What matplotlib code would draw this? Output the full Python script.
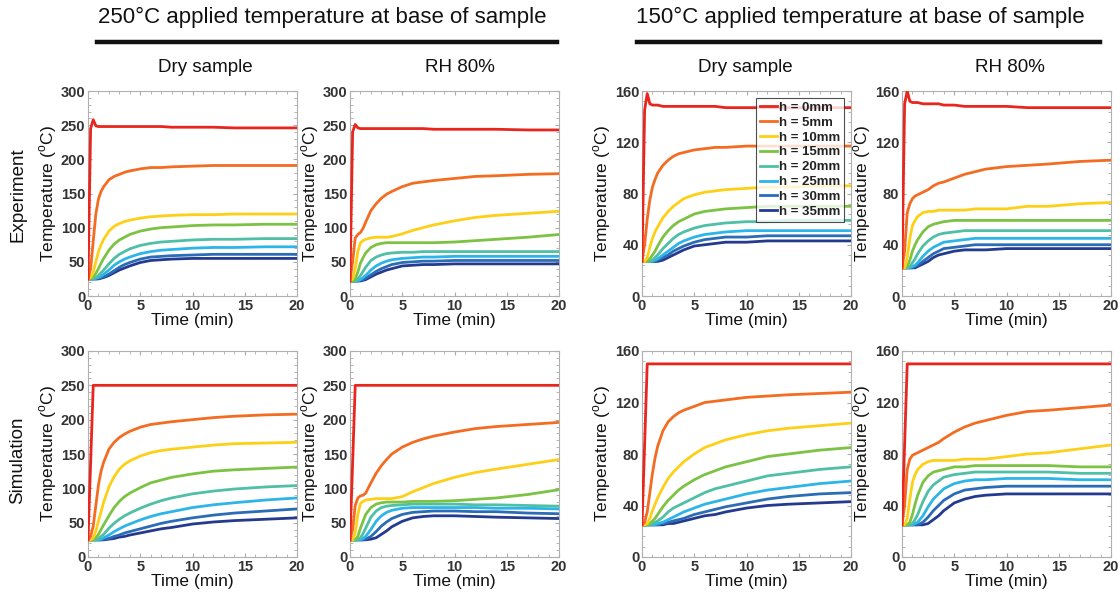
import matplotlib
matplotlib.use("Agg")
import matplotlib.pyplot as plt
from matplotlib.ticker import AutoMinorLocator
from matplotlib.lines import Line2D

plt.rcParams['font.family'] = ['Liberation Sans', 'DejaVu Sans']
plt.rcParams['mathtext.fontset'] = 'custom'
plt.rcParams['mathtext.rm'] = 'Liberation Sans'

labels = ["h = 0mm", "h = 5mm", "h = 10mm", "h = 15mm", "h = 20mm", "h = 25mm", "h = 30mm", "h = 35mm"]
colors = ["#e8261e", "#f36c21", "#fdd017", "#7cc243", "#4fbfa5", "#2cb5e9", "#2b6cb7", "#243a8e"]

time = [0, 0.25, 0.5, 0.75, 1, 1.25, 1.5, 2, 2.5, 3, 3.5, 4, 5, 6, 7, 8, 10, 12, 14, 17, 20]

# 250C, dry, experiment
exp250_dry = [
    [25, 245, 258, 249, 248, 248, 248, 248, 248, 248, 248, 248, 248, 248, 248, 247, 247, 247, 246, 246, 246],
    [25, 40, 80, 120, 142, 153, 160, 170, 175, 178, 181, 183, 186, 188, 188, 189, 190, 191, 191, 191, 191],
    [25, 27, 35, 50, 65, 75, 83, 95, 102, 106, 109, 111, 114, 116, 117, 118, 119, 119, 120, 120, 120],
    [25, 26, 28, 33, 40, 48, 55, 67, 76, 82, 86, 90, 95, 98, 100, 101, 103, 104, 104, 105, 105],
    [25, 25, 26, 27, 30, 34, 38, 47, 55, 61, 65, 69, 74, 77, 79, 80, 82, 83, 83, 84, 84],
    [25, 25, 25, 26, 27, 29, 32, 38, 45, 50, 54, 57, 62, 65, 67, 68, 70, 71, 71, 72, 72],
    [25, 25, 25, 25, 26, 27, 28, 32, 37, 42, 46, 49, 54, 57, 58, 59, 60, 61, 61, 61, 61],
    [25, 25, 25, 25, 25, 26, 27, 30, 34, 38, 41, 44, 49, 52, 53, 54, 55, 55, 55, 55, 55],
]
# 250C, RH 80%, experiment
exp250_rh = [
    [22, 240, 251, 246, 245, 245, 245, 245, 245, 245, 245, 245, 245, 245, 245, 244, 244, 244, 244, 243, 243],
    [22, 50, 85, 90, 93, 99, 108, 125, 135, 143, 149, 153, 160, 165, 167, 169, 172, 175, 176, 178, 179],
    [22, 25, 40, 65, 78, 81, 83, 85, 86, 86, 86, 87, 91, 96, 100, 104, 110, 115, 118, 121, 124],
    [22, 22, 25, 35, 48, 56, 63, 71, 75, 77, 78, 78, 78, 78, 78, 78, 79, 81, 83, 86, 90],
    [22, 22, 22, 25, 30, 36, 42, 52, 57, 60, 62, 63, 64, 64, 65, 65, 65, 65, 65, 65, 65],
    [22, 22, 22, 22, 24, 27, 30, 38, 44, 48, 51, 53, 55, 56, 57, 57, 58, 58, 58, 58, 58],
    [22, 22, 22, 22, 23, 24, 26, 31, 36, 40, 43, 46, 49, 50, 51, 51, 52, 52, 52, 52, 52],
    [22, 22, 22, 22, 22, 23, 24, 28, 32, 35, 38, 40, 44, 45, 46, 46, 47, 47, 47, 47, 47],
]
# 150C, dry, experiment
exp150_dry = [
    [27, 145, 158, 150, 149, 149, 149, 148, 148, 148, 148, 148, 148, 148, 148, 147, 147, 147, 147, 147, 147],
    [27, 40, 60, 75, 85, 91, 96, 102, 106, 109, 111, 112, 114, 115, 116, 116, 117, 117, 117, 117, 117],
    [27, 27, 30, 38, 45, 50, 54, 61, 66, 70, 73, 76, 79, 81, 82, 83, 84, 85, 85, 86, 86],
    [27, 27, 27, 29, 32, 35, 39, 46, 51, 55, 58, 60, 64, 66, 67, 68, 69, 70, 70, 70, 70],
    [27, 27, 27, 27, 28, 30, 32, 37, 41, 45, 48, 50, 53, 55, 56, 57, 58, 58, 59, 59, 59],
    [27, 27, 27, 27, 27, 28, 29, 32, 35, 38, 41, 43, 46, 48, 49, 50, 51, 51, 51, 51, 51],
    [27, 27, 27, 27, 27, 27, 28, 30, 32, 35, 37, 39, 42, 44, 45, 46, 46, 47, 47, 47, 47],
    [27, 27, 27, 27, 27, 27, 27, 28, 30, 32, 34, 36, 39, 40, 41, 42, 42, 43, 43, 43, 43],
]
# 150C, RH 80%, experiment
exp150_rh = [
    [22, 150, 160, 152, 151, 151, 151, 150, 150, 150, 150, 149, 149, 148, 148, 148, 148, 147, 147, 147, 147],
    [22, 35, 65, 72, 76, 78, 79, 81, 83, 86, 88, 89, 92, 95, 97, 99, 101, 102, 103, 105, 106],
    [22, 22, 30, 45, 55, 59, 62, 65, 66, 66, 67, 67, 67, 67, 68, 68, 68, 70, 70, 72, 73],
    [22, 22, 23, 28, 35, 40, 44, 50, 54, 56, 57, 58, 59, 59, 59, 59, 59, 59, 59, 59, 59],
    [22, 22, 22, 23, 26, 29, 33, 39, 43, 46, 48, 49, 50, 51, 51, 51, 51, 51, 51, 51, 51],
    [22, 22, 22, 22, 23, 24, 26, 31, 35, 38, 40, 42, 43, 44, 45, 45, 45, 45, 45, 45, 45],
    [22, 22, 22, 22, 22, 23, 24, 27, 30, 33, 35, 37, 38, 39, 40, 40, 40, 40, 40, 40, 40],
    [22, 22, 22, 22, 22, 22, 23, 25, 27, 30, 32, 33, 35, 36, 36, 36, 37, 37, 37, 37, 37],
]
# 250C, dry, simulation
sim250_dry = [
    [25, 137, 250, 250, 250, 250, 250, 250, 250, 250, 250, 250, 250, 250, 250, 250, 250, 250, 250, 250, 250],
    [25, 30, 45, 75, 105, 125, 138, 157, 167, 174, 179, 183, 189, 193, 195, 197, 200, 203, 205, 207, 208],
    [25, 25, 28, 38, 52, 66, 80, 102, 117, 128, 135, 140, 147, 152, 155, 157, 160, 163, 165, 166, 167],
    [25, 25, 25, 28, 33, 40, 47, 60, 72, 81, 88, 93, 101, 108, 112, 116, 121, 125, 127, 129, 131],
    [25, 25, 25, 25, 27, 30, 33, 42, 49, 55, 60, 64, 71, 77, 82, 86, 92, 96, 99, 102, 104],
    [25, 25, 25, 25, 25, 26, 28, 32, 37, 41, 45, 48, 54, 59, 63, 66, 72, 76, 79, 83, 86],
    [25, 25, 25, 25, 25, 25, 26, 27, 30, 32, 35, 37, 41, 45, 49, 52, 57, 61, 64, 67, 70],
    [25, 25, 25, 25, 25, 25, 25, 26, 27, 29, 30, 32, 35, 38, 41, 43, 48, 51, 53, 55, 57],
]
# 250C, RH 80%, simulation
sim250_rh = [
    [25, 137, 250, 250, 250, 250, 250, 250, 250, 250, 250, 250, 250, 250, 250, 250, 250, 250, 250, 250, 250],
    [25, 40, 75, 86, 89, 90, 93, 108, 122, 133, 142, 150, 160, 167, 172, 176, 182, 187, 190, 193, 196],
    [25, 25, 35, 62, 78, 81, 83, 84, 85, 85, 85, 85, 88, 95, 101, 107, 116, 123, 128, 135, 142],
    [25, 25, 25, 30, 42, 52, 62, 72, 77, 79, 80, 80, 80, 81, 81, 81, 82, 84, 86, 91, 98],
    [25, 25, 25, 25, 28, 34, 42, 58, 67, 72, 74, 75, 76, 77, 77, 77, 77, 76, 76, 75, 74],
    [25, 25, 25, 25, 25, 27, 30, 40, 52, 60, 65, 68, 71, 72, 72, 72, 72, 72, 71, 71, 70],
    [25, 25, 25, 25, 25, 25, 26, 30, 37, 45, 51, 56, 62, 65, 66, 67, 67, 66, 66, 64, 63],
    [25, 25, 25, 25, 25, 25, 25, 26, 28, 33, 38, 44, 52, 57, 59, 60, 60, 59, 58, 57, 56],
]
# 150C, dry, simulation
sim150_dry = [
    [25, 87, 150, 150, 150, 150, 150, 150, 150, 150, 150, 150, 150, 150, 150, 150, 150, 150, 150, 150, 150],
    [25, 27, 35, 50, 65, 77, 86, 98, 105, 109, 112, 114, 117, 120, 121, 122, 124, 125, 126, 127, 128],
    [25, 25, 26, 30, 36, 41, 46, 54, 61, 66, 70, 74, 80, 85, 88, 91, 95, 98, 100, 102, 104],
    [25, 25, 25, 26, 28, 30, 33, 39, 44, 48, 52, 55, 60, 64, 67, 70, 74, 78, 80, 83, 85],
    [25, 25, 25, 25, 26, 27, 28, 31, 35, 38, 40, 42, 46, 50, 53, 55, 59, 63, 65, 68, 70],
    [25, 25, 25, 25, 25, 25, 26, 27, 29, 31, 33, 35, 38, 41, 43, 45, 49, 52, 54, 57, 59],
    [25, 25, 25, 25, 25, 25, 25, 26, 27, 28, 29, 30, 33, 35, 37, 39, 42, 45, 47, 49, 50],
    [25, 25, 25, 25, 25, 25, 25, 25, 26, 26, 27, 28, 30, 32, 33, 35, 38, 40, 41, 42, 43],
]
# 150C, RH 80%, simulation
sim150_rh = [
    [25, 87, 150, 150, 150, 150, 150, 150, 150, 150, 150, 150, 150, 150, 150, 150, 150, 150, 150, 150, 150],
    [25, 40, 68, 76, 79, 80, 81, 83, 85, 87, 89, 92, 97, 101, 104, 106, 110, 113, 114, 116, 118],
    [25, 25, 30, 45, 58, 64, 68, 72, 74, 75, 75, 75, 75, 76, 76, 76, 78, 80, 81, 84, 87],
    [25, 25, 25, 27, 33, 41, 48, 58, 63, 66, 67, 68, 70, 70, 71, 71, 71, 71, 71, 70, 70],
    [25, 25, 25, 25, 26, 29, 33, 43, 51, 56, 59, 62, 64, 65, 66, 66, 66, 66, 66, 65, 65],
    [25, 25, 25, 25, 25, 26, 27, 32, 39, 45, 49, 53, 57, 59, 60, 60, 61, 61, 61, 60, 60],
    [25, 25, 25, 25, 25, 25, 25, 27, 31, 36, 40, 44, 49, 52, 53, 54, 55, 55, 55, 55, 55],
    [25, 25, 25, 25, 25, 25, 25, 25, 26, 29, 32, 36, 42, 45, 47, 48, 49, 49, 49, 49, 49],
]

panels = [[exp250_dry, exp250_rh, exp150_dry, exp150_rh],
          [sim250_dry, sim250_rh, sim150_dry, sim150_rh]]
ymax = [300, 300, 160, 160]
yticks = [[0, 50, 100, 150, 200, 250, 300], [0, 50, 100, 150, 200, 250, 300],
          [0, 40, 80, 120, 160], [0, 40, 80, 120, 160]]

W, H = 1120, 600
fig = plt.figure(figsize=(W / 100, H / 100), dpi=100)
fig.patch.set_facecolor("white")

lefts = [88, 350, 642, 902]
width = 209
rows = [(91, 296), (351, 557)]

tick_color = "#333333"
for r, (top, bot) in enumerate(rows):
    for c in range(4):
        ax = fig.add_axes([lefts[c] / W, 1 - bot / H, width / W, (bot - top) / H])
        data = panels[r][c]
        for i, series in enumerate(data):
            ax.plot(time, series, color=colors[i], lw=2.0, label=labels[i],
                    solid_joinstyle='round', zorder=3 + (8 - i) * 0.01)
        ax.set_xlim(0, 20)
        ax.set_ylim(0, ymax[c])
        ax.set_xticks([0, 5, 10, 15, 20])
        ax.set_yticks(yticks[c])
        ax.xaxis.set_minor_locator(AutoMinorLocator(5))
        ax.yaxis.set_minor_locator(AutoMinorLocator(5))
        ax.tick_params(which="both", direction="in", top=True, right=True,
                       color="#aaaaaa", labelcolor=tick_color)
        ax.tick_params(which="major", length=3, width=0.8, labelsize=10.5, pad=2)
        ax.tick_params(which="minor", length=2, width=0.6)
        for lab in ax.get_xticklabels() + ax.get_yticklabels():
            lab.set_fontweight("bold")
        for sp in ax.spines.values():
            sp.set_color("#b0b0b0")
            sp.set_linewidth(0.8)
            sp.set_linestyle((0, (1, 1)))
        ax.set_ylabel("Temperature ($^{\\mathrm{o}}$C)", fontsize=12.5, color="#111111", labelpad=1)
        ax.set_xlabel("Time (min)", fontsize=12.5, color="#111111", labelpad=0)
        if r == 0 and c == 2:
            leg = ax.legend(loc="upper right", fontsize=9.5, frameon=True, fancybox=False,
                            borderpad=0.3, labelspacing=0.2, handlelength=1.25,
                            handletextpad=0.15, borderaxespad=0.0,
                            bbox_to_anchor=(0.966, 0.968))
            leg.get_frame().set_edgecolor("#222222")
            leg.get_frame().set_linewidth(0.8)
            for t in leg.get_texts():
                t.set_fontweight("bold")
                t.set_color("#222222")

# headers
fig.text(322 / W, 1 - 17 / H, "250\u00b0C applied temperature at base of sample",
         ha="center", va="center", fontsize=16, color="#111111")
fig.text(860 / W, 1 - 17 / H, "150\u00b0C applied temperature at base of sample",
         ha="center", va="center", fontsize=16, color="#111111")
fig.add_artist(Line2D([97 / W, 557 / W], [1 - 42 / H, 1 - 42 / H], color="#111111", lw=3.2))
fig.add_artist(Line2D([637 / W, 1100 / W], [1 - 42 / H, 1 - 42 / H], color="#111111", lw=3.2))
for x, txt in [(205, "Dry sample"), (460, "RH 80%"), (745, "Dry sample"), (1010, "RH 80%")]:
    fig.text(x / W, 1 - 67 / H, txt, ha="center", va="center", fontsize=13.5, color="#111111")
fig.text(18 / W, 1 - 195 / H, "Experiment", rotation=90, ha="center", va="center",
         fontsize=13.5, color="#111111")
fig.text(18 / W, 1 - 460 / H, "Simulation", rotation=90, ha="center", va="center",
         fontsize=13.5, color="#111111")

fig.savefig("out.png", dpi=100, facecolor="white")
